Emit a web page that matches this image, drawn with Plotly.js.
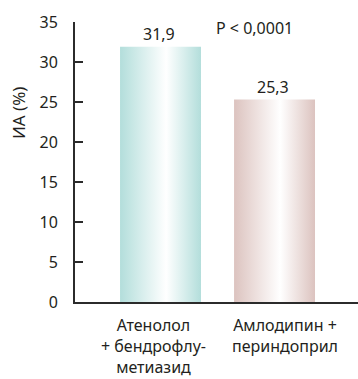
<!DOCTYPE html>
<html>
<head>
<meta charset="utf-8">
<script src="https://cdn.plot.ly/plotly-3.0.1.min.js"></script>
<style>html,body{margin:0;padding:0;background:#fff;}#chart{width:358px;height:379px;}</style>
</head>
<body>
<div id="chart"></div>
<script>
const categories = ["Атенолол<br>+ бендрофлу-<br>метиазид", "Амлодипин +<br>периндоприл"];
const values = [31.9, 25.3];
const valueLabels = ["31,9", "25,3"];
const edgeColors = ["#b3dedb", "#dcc3bf"];
const yTicks = [0, 5, 10, 15, 20, 25, 30, 35];
const pText = "P < 0,0001";
const yTitle = "ИА (%)";

const FONT = "Noto Sans, Open Sans, sans-serif";
const INK = "#231f20";
const barWidth = 0.71;

const traces = values.map((v, i) => ({
  type: "scatter",
  mode: "lines",
  x: [i - barWidth / 2, i - barWidth / 2, i + barWidth / 2, i + barWidth / 2, i - barWidth / 2],
  y: [0, v, v, 0, 0],
  fill: "toself",
  line: { width: 0, color: "rgba(0,0,0,0)" },
  fillcolor: edgeColors[i],
  fillgradient: {
    type: "horizontal",
    colorscale: [[0, edgeColors[i]], [0.57, "#ffffff"], [1, edgeColors[i]]]
  },
  hoverinfo: "skip",
  showlegend: false
}));

const annotations = [];
values.forEach((v, i) => {
  annotations.push({
    x: i, y: v, xref: "x", yref: "y", text: valueLabels[i], showarrow: false,
    yanchor: "bottom", yshift: 0, xshift: -2,
    font: { family: FONT, size: 16, color: INK }
  });
  annotations.push({
    x: i, y: 0, xref: "x", yref: "paper", text: categories[i], showarrow: false,
    yanchor: "top", yshift: -11, xshift: i === 0 ? -7 : 10, align: "center",
    borderpad: 0,
    font: { family: FONT, size: 16, color: INK }
  });
});
annotations.push({
  x: 0.82, y: 34.2, xref: "x", yref: "y", text: pText, showarrow: false,
  font: { family: FONT, size: 16, color: INK }
});
annotations.push({
  x: 0, y: 0.675, xref: "paper", yref: "paper", xshift: -56,
  xanchor: "center", yanchor: "middle", text: yTitle, showarrow: false,
  textangle: -90, font: { family: FONT, size: 17, color: INK }
});

const layout = {
  width: 358, height: 379,
  margin: { l: 75, r: 0, t: 22, b: 77 },
  paper_bgcolor: "#ffffff", plot_bgcolor: "#ffffff",
  showlegend: false,
  xaxis: {
    range: [-0.75, 1.732], showgrid: false, zeroline: false,
    showline: true, linecolor: "#2b2b2b", linewidth: 2,
    showticklabels: false, ticks: "", fixedrange: true
  },
  yaxis: {
    range: [0, 35], tickvals: yTicks, showgrid: false, zeroline: false,
    showline: true, linecolor: "#2b2b2b", linewidth: 2,
    ticks: "inside", ticklen: 8, tickwidth: 1.5, tickcolor: "#2b2b2b",
    ticklabelstandoff: 12,
    tickfont: { family: FONT, size: 16, color: INK }, fixedrange: true
  },
  annotations: annotations
};

Plotly.newPlot("chart", traces, layout, { displayModeBar: false, staticPlot: true });
</script>
</body>
</html>
